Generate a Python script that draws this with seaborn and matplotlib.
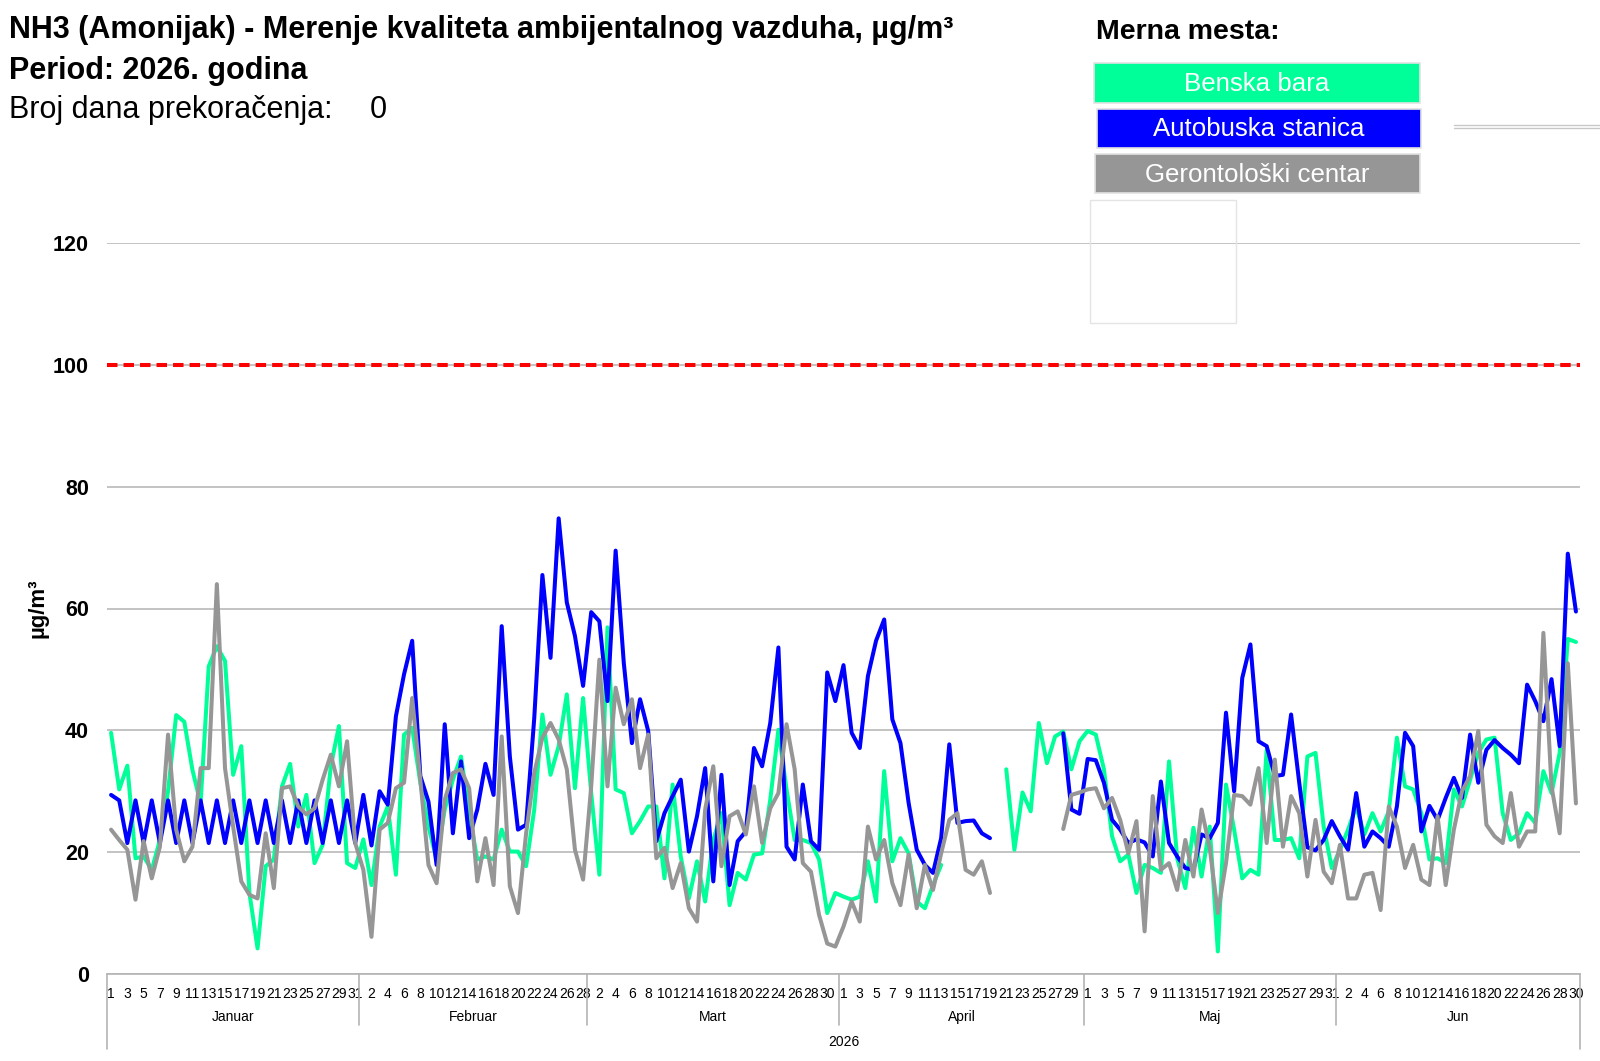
import numpy as np
import pandas as pd
import matplotlib
matplotlib.use("Agg")
import matplotlib.pyplot as plt
import matplotlib.transforms as mtransforms
from matplotlib.patches import Rectangle
from matplotlib.lines import Line2D
import seaborn as sns

# calendar of the x axis
months = ["Januar", "Februar", "Mart", "April", "Maj", "Jun"]
month_days = [31, 28, 31, 30, 31, 30]
year_label = "2026"

stations = ["Benska bara", "Autobuska stanica", "Gerontološki centar"]
colors = ["#00FF99", "#0000FF", "#969696"]
limit_value = 100
yticks = [0, 20, 40, 60, 80, 100, 120]

nan = np.nan

# Benska bara, daily values by month
benska_jan = [39.6, 30.3, 34.2, 19.0, 19.3, 17.1, 22.0, 30.0, 42.5, 41.4, 33.5, 28.0, 50.5, 53.8, 51.4, 32.7,
              37.4, 13.3, 4.2, 17.7, 18.8, 30.8, 34.5, 24.2, 29.4, 18.2, 21.2, 34.1, 40.7, 18.2, 17.4]
benska_feb = [22.1, 14.6, 24.2, 27.5, 16.3, 39.3, 40.4, 31.4, 24.2, 18.8, 27.0, 31.9, 35.7, 26.4, 18.8, 19.3,
              18.8, 23.7, 20.1, 20.1, 17.7, 27.0, 42.6, 32.7, 37.4, 45.9, 30.5, 45.3]
benska_mar = [29.7, 16.3, 56.9, 30.3, 29.7, 23.1, 25.1, 27.5, 27.5, 15.7, 31.1, 19.3, 12.4, 18.5, 11.9, 22.0,
              26.4, 11.3, 16.6, 15.5, 19.6, 19.8, 28.6, 40.1, 30.3, 22.0, 22.0, 21.5, 18.8, 10.0, 13.3]
benska_apr = [12.7, 12.2, 12.7, 18.5, 11.9, 33.3, 18.5, 22.3, 19.8, 11.9, 10.8, 14.6, 17.9, nan, nan, nan,
              nan, nan, nan, nan, 33.6, 20.4, 29.8, 26.7, 41.2, 34.6, 39.0, 39.8, 33.6, 38.2]
benska_maj = [39.9, 39.3, 33.6, 22.6, 18.5, 19.6, 13.3, 17.9, 17.4, 16.6, 34.9, 19.0, 14.1, 24.0, 16.0, 24.2,
              3.7, 31.1, 23.7, 15.7, 17.1, 16.3, 36.8, 22.0, 22.0, 22.3, 19.0, 35.7, 36.3, 24.2, 17.4]
benska_jun = [20.4, 23.7, 27.5, 22.9, 26.4, 23.4, 26.7, 38.8, 30.8, 30.3, 26.4, 18.8, 19.0, 18.2, 30.3, 27.5,
              31.9, 36.3, 38.5, 38.8, 26.4, 22.0, 23.1, 26.4, 24.8, 33.3, 29.7, 36.3, 55.0, 54.5]

# Autobuska stanica
autob_jan = [29.4, 28.5, 21.5, 28.5, 21.5, 28.5, 21.5, 28.5, 21.5, 28.5, 21.5, 28.5, 21.5, 28.5, 21.5, 28.5,
             21.5, 28.5, 21.5, 28.5, 21.5, 28.5, 21.5, 28.5, 21.5, 28.5, 21.5, 28.5, 21.5, 28.5, 21.5]
autob_feb = [29.4, 21.1, 30.0, 27.8, 42.3, 49.2, 54.7, 32.5, 28.3, 17.9, 41.0, 23.1, 34.9, 22.3, 27.0, 34.5,
             29.4, 57.1, 35.7, 23.7, 24.5, 42.0, 65.5, 51.9, 74.8, 61.0, 55.5, 47.3]
autob_mar = [59.4, 57.9, 44.8, 69.5, 51.1, 37.9, 45.1, 39.9, 21.8, 26.4, 29.2, 31.9, 20.1, 25.9, 33.8, 15.2,
             32.7, 14.6, 21.8, 23.4, 37.1, 34.1, 41.2, 53.6, 20.9, 18.8, 31.1, 21.8, 20.4, 49.5, 44.8]
autob_apr = [50.7, 39.6, 37.1, 48.9, 54.7, 58.2, 41.8, 37.9, 28.1, 20.4, 17.9, 16.6, 22.3, 37.7, 24.8, 25.1,
             25.2, 23.1, 22.3, nan, nan, nan, nan, nan, nan, nan, nan, 39.5, 27.0, 26.3]
autob_maj = [35.3, 35.1, 31.4, 25.3, 23.7, 21.5, 22.1, 21.6, 19.3, 31.6, 21.5, 19.3, 17.4, 17.1, 22.9, 22.3,
             24.8, 42.9, 30.0, 48.6, 54.1, 38.2, 37.4, 32.5, 32.7, 42.6, 31.4, 20.8, 20.3, 22.0, 25.1]
autob_jun = [22.6, 20.4, 29.7, 20.9, 23.4, 22.3, 20.9, 27.5, 39.6, 37.4, 23.4, 27.6, 25.3, 28.9, 32.2, 28.9,
             39.3, 31.4, 36.8, 38.4, 37.1, 36.0, 34.6, 47.5, 44.8, 41.5, 48.4, 37.4, 69.0, 59.5]

# Gerontoloski centar
geron_jan = [23.7, 22.0, 20.4, 12.2, 21.8, 15.7, 20.9, 39.3, 23.7, 18.5, 20.9, 33.8, 33.8, 64.0, 33.8, 24.2,
             15.2, 13.0, 12.4, 23.1, 14.1, 30.5, 30.8, 27.5, 26.2, 27.2, 31.9, 36.0, 30.8, 38.2, 21.5]
geron_feb = [17.1, 6.1, 23.7, 24.8, 30.5, 31.4, 45.3, 31.9, 17.9, 14.9, 28.6, 33.0, 33.6, 30.5, 15.2, 22.3,
             14.6, 39.0, 14.4, 10.0, 23.1, 33.0, 38.8, 41.2, 38.5, 33.6, 20.4, 15.5]
geron_mar = [30.8, 51.6, 30.8, 47.0, 41.0, 45.1, 33.8, 39.3, 19.0, 20.7, 14.1, 18.2, 10.8, 8.6, 27.0, 34.1,
             17.7, 25.9, 26.7, 22.9, 30.8, 21.5, 27.2, 29.7, 41.0, 33.6, 18.2, 16.8, 9.7, 5.0, 4.5]
geron_apr = [7.8, 11.9, 8.6, 24.2, 18.8, 22.0, 14.9, 11.3, 19.6, 10.8, 17.9, 13.8, 19.8, 25.3, 26.4, 17.1,
             16.3, 18.5, 13.3, nan, nan, nan, nan, nan, nan, nan, nan, 23.8, 29.4, 29.8]
geron_maj = [30.3, 30.5, 27.2, 28.9, 25.3, 19.8, 25.1, 7.0, 29.2, 17.1, 18.2, 13.8, 22.0, 16.0, 27.0, 20.7,
             10.0, 18.2, 29.4, 29.2, 27.8, 33.8, 21.5, 35.2, 20.9, 29.2, 26.4, 16.0, 25.3, 16.8, 14.9]
geron_jun = [21.2, 12.4, 12.4, 16.3, 16.6, 10.5, 27.5, 24.2, 17.4, 21.2, 15.5, 14.6, 25.9, 14.6, 23.7, 30.0,
             32.5, 39.9, 24.5, 22.6, 21.5, 29.7, 20.9, 23.4, 23.4, 56.0, 30.8, 23.1, 51.0, 28.0]

series = {
    stations[0]: benska_jan + benska_feb + benska_mar + benska_apr + benska_maj + benska_jun,
    stations[1]: autob_jan + autob_feb + autob_mar + autob_apr + autob_maj + autob_jun,
    stations[2]: geron_jan + geron_feb + geron_mar + geron_apr + geron_maj + geron_jun,
}

# long table, with a segment id so that gaps (missing days) stay gaps
frames = []
for name in stations:
    s = pd.Series(series[name], dtype=float)
    part = pd.DataFrame({"day": np.arange(len(s)), "value": s,
                         "seg": s.isna().cumsum(), "station": name})
    frames.append(part.dropna())
df = pd.concat(frames, ignore_index=True)

sns.set_style("white")
plt.rcParams["font.family"] = ["Liberation Sans", "DejaVu Sans"]
plt.rcParams["text.color"] = "black"
plt.rcParams["axes.labelcolor"] = "black"
plt.rcParams["xtick.color"] = "black"
plt.rcParams["ytick.color"] = "black"

W, H = 1600, 1061
fig = plt.figure(figsize=(W / 100, H / 100), dpi=100)
ax_l, ax_r, ax_t, ax_b = 107, 1580, 243, 974
ax = fig.add_axes([ax_l / W, 1 - ax_b / H, (ax_r - ax_l) / W, (ax_b - ax_t) / H])

sns.lineplot(data=df, x="day", y="value", hue="station", hue_order=stations,
             palette=colors, units="seg", estimator=None, linewidth=2.9,
             legend=False, ax=ax, sort=True)

ax.axhline(limit_value, color="#FF0000", linewidth=2.9, linestyle=(0, (2.6, 1.5)), zorder=3)

n_days = sum(month_days)
ax.set_xlim(-0.5, n_days - 0.5)
ax.set_ylim(0, 120)
ax.set_yticks(yticks)
ax.set_yticklabels([str(v) for v in yticks], fontweight="bold", fontsize=15.5)
ax.yaxis.grid(True, color="#BEBEBE", linewidth=1.3)
ax.xaxis.grid(False)
ax.set_axisbelow(True)

# day numbers for every other day
day_numbers = [d for n in month_days for d in range(1, n + 1)]
ticks = list(range(0, n_days, 2))
ax.set_xticks(ticks)
ax.set_xticklabels([str(day_numbers[i]) for i in ticks], fontsize=10)
ax.tick_params(axis="x", length=0, pad=9)
ax.tick_params(axis="y", length=0, pad=13)
ax.set_xlabel("")
ax.set_ylabel("µg/m³", fontweight="bold", fontsize=16)
ax.yaxis.label.set_verticalalignment("center")
ax.yaxis.set_label_coords((38 - ax_l) / (ax_r - ax_l), 0.5)

for side in ["left", "top", "right"]:
    ax.spines[side].set_visible(False)
ax.spines["bottom"].set_color("#B4B4B4")
ax.spines["bottom"].set_linewidth(1.2)

# grouped category axis: month names, separators, year
trans = mtransforms.blended_transform_factory(ax.transData, ax.transAxes)
edges = np.concatenate([[0], np.cumsum(month_days)]) - 0.5
h = ax_b - ax_t
for i, name in enumerate(months):
    ax.text((edges[i] + edges[i + 1]) / 2, -43 / h, name, transform=trans,
            ha="center", va="center", fontsize=10)
for i, e in enumerate(edges):
    low = -75 / h if i in (0, len(edges) - 1) else -51 / h
    ax.add_line(Line2D([e, e], [0, low], transform=trans, color="#B4B4B4",
                       linewidth=1.2, clip_on=False))
ax.text((edges[0] + edges[-1]) / 2, -68 / h, year_label, transform=trans,
        ha="center", va="center", fontsize=10)

# header texts
fig.text(9 / W, 1 - 38 / H, "NH3 (Amonijak) - Merenje kvaliteta ambijentalnog vazduha, µg/m³",
         fontsize=22, fontweight="bold", va="baseline")
fig.text(9 / W, 1 - 79 / H, "Period: 2026. godina", fontsize=22, fontweight="bold", va="baseline")
fig.text(9 / W, 1 - 118 / H, "Broj dana prekoračenja:", fontsize=22, va="baseline")
fig.text(370 / W, 1 - 118 / H, "0", fontsize=22, va="baseline")

# legend as coloured boxes
fig.text(1096 / W, 1 - 39 / H, "Merna mesta:", fontsize=20.5, fontweight="bold", va="baseline")
boxes = [(1094, 63, 1420, 103), (1097, 109, 1421, 148), (1095, 154, 1420, 193)]
for (x0, y0, x1, y1), name, col in zip(boxes, stations, colors):
    fig.patches.append(Rectangle((x0 / W, 1 - y1 / H), (x1 - x0) / W, (y1 - y0) / H,
                                 transform=fig.transFigure, facecolor=col,
                                 edgecolor="#E2E2E2", linewidth=1.2))
    fig.text((x0 + x1) / 2 / W, 1 - ((y0 + y1) / 2 + 1) / H, name, color="white",
             fontsize=18.6, ha="center", va="center")

# leftover empty frame and double rule seen in the source image
fig.patches.append(Rectangle((1090 / W, 1 - 323 / H), 146 / W, 123 / H, transform=fig.transFigure,
                             facecolor="none", edgecolor="#E4E4E4", linewidth=1.0))
for yy in (125, 128):
    fig.add_artist(Line2D([1454 / W, 1.0], [1 - yy / H, 1 - yy / H], transform=fig.transFigure,
                          color="#C8C8C8", linewidth=1.0))

fig.savefig("out.png", dpi=100)
